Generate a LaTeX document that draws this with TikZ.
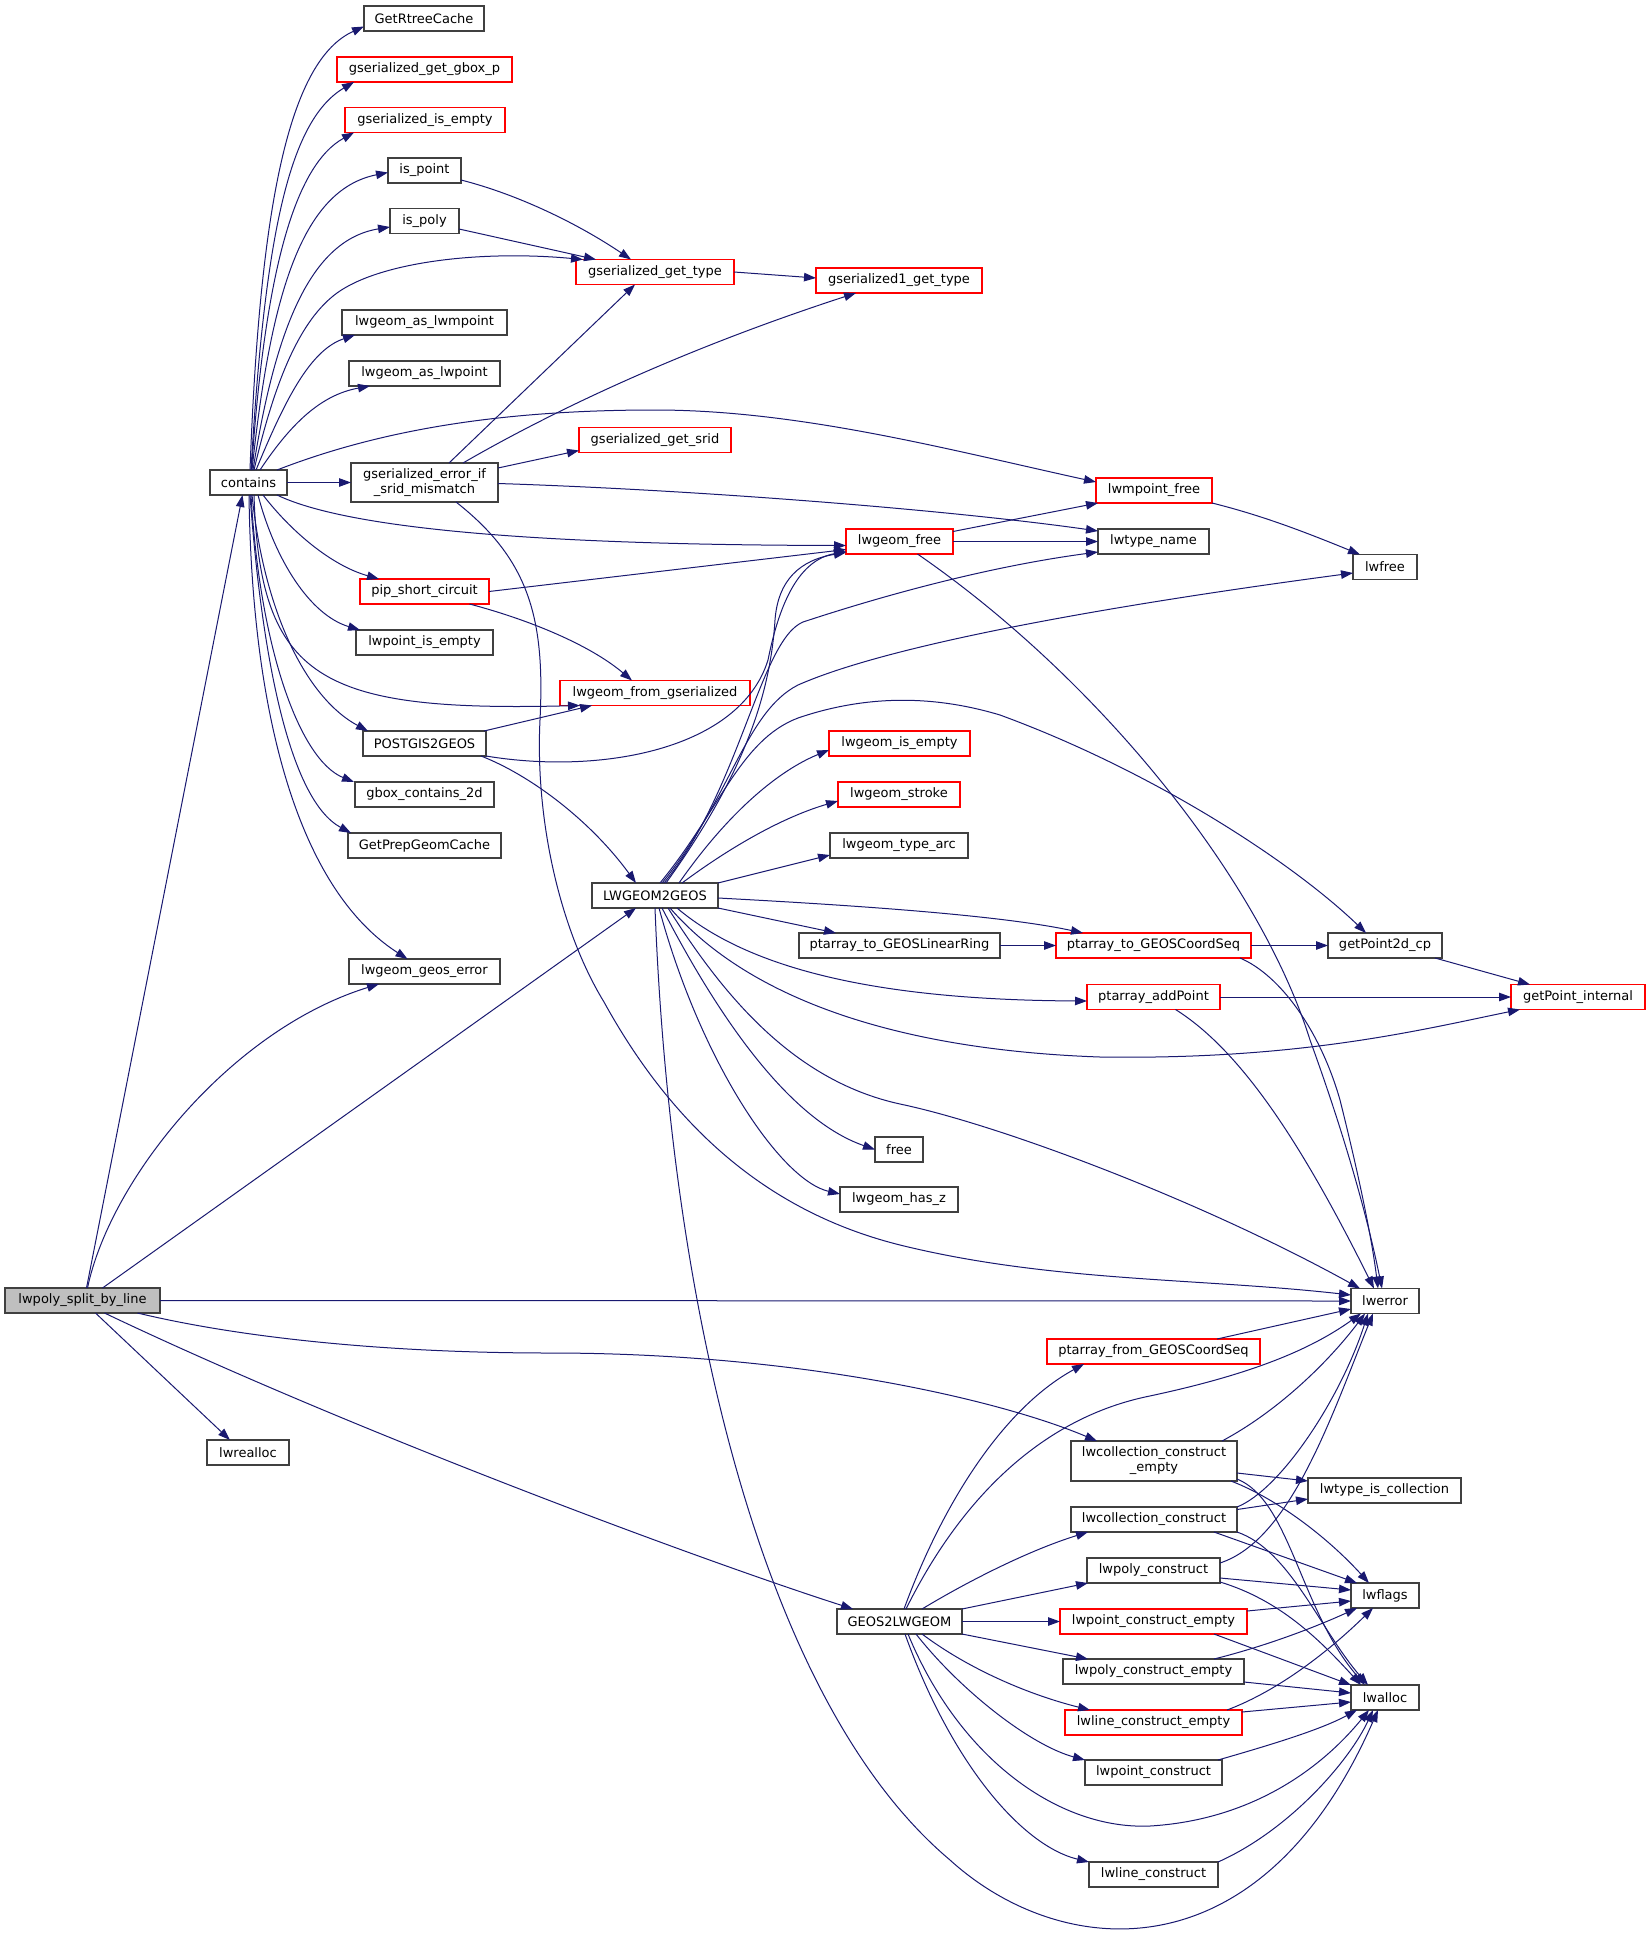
\documentclass[tikz,border=0pt]{standalone}
\usepackage{fontspec}
\setmainfont{DejaVu Sans}
\usetikzlibrary{arrows.meta}
\definecolor{edgec}{HTML}{191970}
\definecolor{bordc}{HTML}{404040}
\definecolor{rootfill}{HTML}{BFBFBF}
\begin{document}
\begin{tikzpicture}[x=1pt,y=-1pt,
  nd/.style={draw, line width=1.2pt, inner sep=0pt, outer sep=0pt, minimum height=25pt,
    font=\fontsize{13}{15}\selectfont, align=center, anchor=center},
  blkbox/.style={nd, draw=bordc, fill=white},
  redbox/.style={nd, draw=red, fill=white, line width=1.1pt},
  rootbox/.style={nd, draw=bordc, fill=rootfill},
  edg/.style={draw=edgec, line width=1pt, -{Triangle[length=12pt,width=8.5pt]}}
]
\useasboundingbox[fill=white] (0,0) rectangle (1649,1937);

% ---------------- nodes ----------------
\node[blkbox, minimum width=120pt] (getrtree) at (424,18.5) {GetRtreeCache};
\node[redbox, minimum width=175pt] (gbox) at (424.5,69.5) {gserialized\_get\_gbox\_p};
\node[redbox, minimum width=160pt] (gisempty) at (425,120) {gserialized\_is\_empty};
\node[blkbox, minimum width=73pt] (ispoint) at (424.5,170.5) {is\_point};
\node[blkbox, minimum width=69pt] (ispoly) at (424.5,221) {is\_poly};
\node[redbox, minimum width=158pt] (gtype) at (655,272) {gserialized\_get\_type};
\node[redbox, minimum width=166pt] (g1type) at (899,280.5) {gserialized1\_get\_type};
\node[blkbox, minimum width=165pt] (asmpoint) at (424.5,322.5) {lwgeom\_as\_lwmpoint};
\node[blkbox, minimum width=151pt] (aspoint) at (424.5,373.5) {lwgeom\_as\_lwpoint};
\node[blkbox, minimum width=77pt] (contains) at (248.5,482.5) {contains};
\node[blkbox, minimum width=147pt, minimum height=39pt] (srid) at (424.5,482.5) {gserialized\_error\_if\\\_srid\_mismatch};
\node[redbox, minimum width=152pt] (getsrid) at (655,440) {gserialized\_get\_srid};
\node[redbox, minimum width=116pt] (mpfree) at (1154,490.5) {lwmpoint\_free};
\node[blkbox, minimum width=111pt] (typename) at (1153.5,541.5) {lwtype\_name};
\node[redbox, minimum width=107pt] (gfree) at (899.5,541.5) {lwgeom\_free};
\node[blkbox, minimum width=64pt] (lwfree) at (1385,567) {lwfree};
\node[redbox, minimum width=129pt] (pip) at (424.5,591.5) {pip\_short\_circuit};
\node[blkbox, minimum width=137pt] (ptisempty) at (424.5,642.5) {lwpoint\_is\_empty};
\node[redbox, minimum width=190pt] (fromgser) at (655,693) {lwgeom\_from\_gserialized};
\node[blkbox, minimum width=123pt] (pg2geos) at (424.5,743.5) {POSTGIS2GEOS};
\node[blkbox, minimum width=139pt] (gboxc) at (424.5,794.5) {gbox\_contains\_2d};
\node[blkbox, minimum width=153pt] (prepgeom) at (424.5,845.5) {GetPrepGeomCache};
\node[redbox, minimum width=141pt] (isempty) at (899.5,743.5) {lwgeom\_is\_empty};
\node[redbox, minimum width=122pt] (stroke) at (899,794.5) {lwgeom\_stroke};
\node[blkbox, minimum width=138pt] (typearc) at (899,845.5) {lwgeom\_type\_arc};
\node[blkbox, minimum width=126pt] (lw2geos) at (655,895.5) {LWGEOM2GEOS};
\node[blkbox, minimum width=151pt] (geoserr) at (424.5,971.5) {lwgeom\_geos\_error};
\node[blkbox, minimum width=201pt] (linring) at (899.5,945.5) {ptarray\_to\_GEOSLinearRing};
\node[redbox, minimum width=195pt] (coordseq) at (1153.5,945.5) {ptarray\_to\_GEOSCoordSeq};
\node[blkbox, minimum width=114pt] (p2dcp) at (1385,945.5) {getPoint2d\_cp};
\node[redbox, minimum width=133pt] (addpoint) at (1153.5,997) {ptarray\_addPoint};
\node[redbox, minimum width=134pt] (ptinternal) at (1578,997) {getPoint\_internal};
\node[blkbox, minimum width=48pt] (free) at (899,1149.5) {free};
\node[blkbox, minimum width=118pt] (hasz) at (899,1199.5) {lwgeom\_has\_z};
\node[rootbox, minimum width=155pt] (split) at (82.5,1300.5) {lwpoly\_split\_by\_line};
\node[blkbox, minimum width=68pt] (lwerror) at (1385,1301) {lwerror};
\node[redbox, minimum width=213pt] (ptfrom) at (1153.5,1351.5) {ptarray\_from\_GEOSCoordSeq};
\node[blkbox, minimum width=82pt] (realloc) at (248,1452.5) {lwrealloc};
\node[blkbox, minimum width=166pt, minimum height=40pt] (collempty) at (1154,1461) {lwcollection\_construct\\\_empty};
\node[blkbox, minimum width=153pt] (iscoll) at (1384.5,1490.5) {lwtype\_is\_collection};
\node[blkbox, minimum width=166pt] (collcons) at (1154,1519.5) {lwcollection\_construct};
\node[blkbox, minimum width=133pt] (polycons) at (1153.5,1570.5) {lwpoly\_construct};
\node[blkbox, minimum width=68pt] (lwflags) at (1385,1595.5) {lwflags};
\node[blkbox, minimum width=125pt] (geos2lw) at (899.5,1621.5) {GEOS2LWGEOM};
\node[redbox, minimum width=187pt] (ptconsempty) at (1153.5,1621.5) {lwpoint\_construct\_empty};
\node[blkbox, minimum width=181pt] (polyconsempty) at (1153.5,1671.5) {lwpoly\_construct\_empty};
\node[blkbox, minimum width=68pt] (lwalloc) at (1385,1697.5) {lwalloc};
\node[redbox, minimum width=177pt] (lineconsempty) at (1153.5,1722.5) {lwline\_construct\_empty};
\node[blkbox, minimum width=137pt] (ptcons) at (1153.5,1772.5) {lwpoint\_construct};
\node[blkbox, minimum width=129pt] (linecons) at (1153.5,1874.5) {lwline\_construct};

% ---------------- edges ----------------
% lwpoly_split_by_line
\draw[edg] ([xshift=4pt]split.north) -- ([xshift=-6pt]contains.south);
\draw[edg] ([xshift=5pt]split.north) .. controls (110,1180) and (230,1030) .. ([xshift=30pt]geoserr.south west);
\draw[edg] ([xshift=20pt]split.north) -- ([xshift=-19pt]lw2geos.south);
\draw[edg] (split.east) -- (lwerror.west);
\draw[edg] ([xshift=55pt]split.south) .. controls (250,1340) and (400,1353) .. (550,1353) .. controls (800,1353) and (1000,1400) .. ([xshift=26pt]collempty.north west);
\draw[edg] ([xshift=13pt]split.south) -- ([xshift=-18pt]realloc.north);
\draw[edg] ([xshift=22pt]split.south) .. controls (350,1430) and (700,1560) .. ([xshift=16pt]geos2lw.north west);

% contains
\draw[edg] ([xshift=1.5pt]contains.north) .. controls (260,200) and (290,60) .. ([yshift=-8pt]getrtree.west);
\draw[edg] ([xshift=2.5pt]contains.north) .. controls (265,230) and (290,120) .. ([xshift=17pt]gbox.south west);
\draw[edg] ([xshift=3pt]contains.north) .. controls (265,270) and (295,165) .. ([xshift=9pt]gisempty.south west);
\draw[edg] ([xshift=3.5pt]contains.north) .. controls (270,300) and (300,190) .. ([yshift=-2pt]ispoint.west);
\draw[edg] ([xshift=4.5pt]contains.north) .. controls (275,330) and (310,240) .. ([yshift=-6pt]ispoly.west);
\draw[edg] ([xshift=5.5pt]contains.north) .. controls (275,380) and (300,320) .. (337,293) .. controls (380,262) and (480,250) .. ([xshift=7pt]gtype.north west);
\draw[edg] ([xshift=7.5pt]contains.north) .. controls (285,400) and (310,350) .. ([xshift=13pt]asmpoint.south west);
\draw[edg] ([xshift=11.5pt]contains.north) .. controls (290,425) and (320,395) .. ([xshift=21pt]aspoint.south west);
\draw[edg] (contains.east) -- (srid.west);
\draw[edg] ([xshift=-10pt]contains.north east) .. controls (380,430) and (500,410) .. (655,410) .. controls (800,410) and (950,450) .. ([yshift=-4pt]mpfree.north west);
\draw[edg] ([xshift=-10pt]contains.south east) .. controls (360,535) and (600,545) .. ([yshift=-4pt]gfree.west);
\draw[edg] ([xshift=14.5pt]contains.south) .. controls (290,530) and (330,565) .. ([xshift=19pt]pip.north west);
\draw[edg] ([xshift=9.5pt]contains.south) .. controls (275,560) and (310,615) .. ([xshift=4pt]ptisempty.north west);
\draw[edg] ([xshift=5.5pt]contains.south) .. controls (260,680) and (320,712) .. ([xshift=20pt]fromgser.south west);
\draw[edg] ([xshift=3.5pt]contains.south) .. controls (265,620) and (310,700) .. ([xshift=5pt]pg2geos.north west);
\draw[edg] ([xshift=2.5pt]contains.south) .. controls (260,650) and (300,760) .. ([xshift=-1pt]gboxc.north west);
\draw[edg] ([xshift=1.5pt]contains.south) .. controls (262,660) and (290,800) .. ([xshift=3pt]prepgeom.north west);
\draw[edg] ([xshift=0.5pt]contains.south) .. controls (252,720) and (300,890) .. ([xshift=-17pt]geoserr.north);

% gserialized_error_if_srid_mismatch
\draw[edg] ([xshift=24.5pt]srid.north) -- ([xshift=-20pt]gtype.south);
\draw[edg] ([xshift=38.5pt]srid.north) .. controls (520,430) and (650,360) .. ([xshift=40pt]g1type.south west);
\draw[edg] ([yshift=-5pt]srid.north east) -- ([yshift=2pt]getsrid.south west);
\draw[edg] ([yshift=-1pt]srid.east) .. controls (700,490) and (950,510) .. ([yshift=-2pt]typename.north west);
\draw[edg] ([xshift=31.5pt]srid.south) .. controls (530,560) and (545,620) .. (540,720) .. controls (535,820) and (560,930) .. (604,1002) .. controls (680,1140) and (780,1215) .. (900,1245) .. controls (1050,1282) and (1200,1278) .. ([yshift=6pt]lwerror.west);

% is_point, is_poly, gserialized_get_type
\draw[edg] ([yshift=-9.5pt]ispoint.east) .. controls (520,195) and (580,225) .. ([xshift=-24pt]gtype.north);
\draw[edg] ([yshift=-8pt]ispoly.east) -- ([xshift=20pt]gtype.north west);
\draw[edg] (gtype.east) -- ([yshift=2.5pt]g1type.west);

% lwmpoint_free, lwgeom_free
\draw[edg] (mpfree.south east) .. controls (1260,515) and (1300,530) .. ([xshift=7pt]lwfree.north west);
\draw[edg] ([yshift=10pt]gfree.east) -- ([xshift=2pt]mpfree.south west);
\draw[edg] (gfree.east) -- (typename.west);
\draw[edg] ([xshift=18pt]gfree.south) .. controls (1100,680) and (1260,880) .. (1310,1040) .. controls (1350,1150) and (1370,1230) .. ([xshift=-3pt]lwerror.north);

% pip_short_circuit
\draw[edg] (pip.east) -- ([yshift=-8pt]gfree.west);
\draw[edg] ([xshift=45pt]pip.south) .. controls (530,620) and (590,645) .. ([xshift=72pt]fromgser.north west);

% POSTGIS2GEOS
\draw[edg] ([xshift=-2pt]pg2geos.north east) -- ([xshift=32pt]fromgser.south west);
\draw[edg] (pg2geos.south east) .. controls (600,775) and (740,750) .. (768,660) .. controls (780,600) and (800,560) .. ([yshift=-10pt]gfree.west);
\draw[edg] ([xshift=-5pt]pg2geos.south east) .. controls (530,775) and (590,820) .. ([xshift=-19pt]lw2geos.north);

% LWGEOM2GEOS
\draw[edg] ([xshift=11pt]lw2geos.north) .. controls (740,780) and (770,700) .. (775,620) .. controls (778,580) and (800,560) .. ([yshift=-11pt]gfree.west);
\draw[edg] ([xshift=9pt]lw2geos.north) .. controls (740,790) and (760,640) .. (803,622) .. controls (900,590) and (1000,565) .. ([yshift=-10.5pt]typename.west);
\draw[edg] ([xshift=7pt]lw2geos.north) .. controls (730,800) and (745,712) .. (798,685) .. controls (900,640) and (1150,600) .. ([yshift=-6pt]lwfree.west);
\draw[edg] ([xshift=5pt]lw2geos.north) .. controls (720,810) and (740,740) .. (798,718) .. controls (880,690) and (950,700) .. (1000,715) .. controls (1150,770) and (1290,860) .. ([xshift=-19pt]p2dcp.north);
\draw[edg] ([xshift=24pt]lw2geos.north) .. controls (730,810) and (780,770) .. ([yshift=6pt]isempty.south west);
\draw[edg] ([xshift=27pt]lw2geos.north) .. controls (740,840) and (790,815) .. ([yshift=6pt]stroke.south west);
\draw[edg] (lw2geos.north east) -- ([yshift=3pt]typearc.south west);
\draw[edg] (lw2geos.south east) -- ([xshift=37pt]linring.north west);
\draw[edg] ([yshift=-2.5pt]lw2geos.east) .. controls (850,905) and (1000,915) .. ([xshift=27pt]coordseq.north west);
\draw[edg] ([xshift=22pt]lw2geos.south) .. controls (750,970) and (880,1000) .. ([yshift=-4pt]addpoint.west);
\draw[edg] ([xshift=15pt]lw2geos.south) .. controls (750,1000) and (900,1050) .. (1100,1057) .. controls (1300,1060) and (1420,1030) .. ([xshift=9pt]ptinternal.south west);
\draw[edg] ([xshift=13pt]lw2geos.south) .. controls (720,990) and (790,1080) .. (900,1104) .. controls (1000,1125) and (1200,1200) .. ([xshift=9pt]lwerror.north west);
\draw[edg] ([xshift=7pt]lw2geos.south) .. controls (720,1020) and (790,1120) .. (free.west);
\draw[edg] ([xshift=4pt]lw2geos.south) .. controls (700,1060) and (780,1180) .. ([yshift=5.5pt]hasz.west);
\draw[edg] (lw2geos.south) .. controls (670,1300) and (760,1700) .. (950,1860) .. controls (1060,1960) and (1260,1980) .. ([xshift=-7pt]lwalloc.south);

% ptarray helpers
\draw[edg] (linring.east) -- (coordseq.west);
\draw[edg] (coordseq.east) -- (p2dcp.west);
\draw[edg] ([xshift=-11pt]coordseq.south east) .. controls (1280,975) and (1320,1030) .. (1340,1100) .. controls (1360,1180) and (1372,1240) .. ([xshift=-7pt]lwerror.north);
\draw[edg] ([xshift=-7pt]p2dcp.south east) -- ([xshift=19pt]ptinternal.north west);
\draw[edg] (addpoint.east) -- (ptinternal.west);
\draw[edg] ([xshift=22pt]addpoint.south) .. controls (1240,1050) and (1300,1140) .. ([xshift=-11pt]lwerror.north);
\draw[edg] ([xshift=-43pt]ptfrom.north east) -- ([yshift=-8pt]lwerror.west);

% GEOS2LWGEOM
\draw[edg] ([xshift=4.5pt]geos2lw.north) .. controls (940,1510) and (1000,1410) .. ([xshift=37pt]ptfrom.south west);
\draw[edg] ([xshift=6.5pt]geos2lw.north) .. controls (960,1500) and (1040,1420) .. (1145,1397) .. controls (1250,1375) and (1310,1350) .. ([xshift=10pt]lwerror.south west);
\draw[edg] ([xshift=22.5pt]geos2lw.north) .. controls (970,1580) and (1030,1550) .. ([xshift=17pt]collcons.south west);
\draw[edg] (geos2lw.north east) -- ([xshift=1pt]polycons.south west);
\draw[edg] (geos2lw.east) -- (ptconsempty.west);
\draw[edg] (geos2lw.south east) -- ([xshift=25pt]polyconsempty.north west);
\draw[edg] ([xshift=22.5pt]geos2lw.south) .. controls (970,1670) and (1030,1695) .. ([xshift=25pt]lineconsempty.north west);
\draw[edg] ([xshift=16.5pt]geos2lw.south) .. controls (960,1690) and (1030,1745) .. (ptcons.north west);
\draw[edg] ([xshift=8.5pt]geos2lw.south) .. controls (960,1760) and (1060,1830) .. (1150,1826) .. controls (1250,1820) and (1320,1770) .. ([xshift=18pt]lwalloc.south west);
\draw[edg] ([xshift=5.5pt]geos2lw.south) .. controls (950,1760) and (1020,1845) .. (linecons.north west);

% constructors
\draw[edg] ([xshift=-15pt]collempty.north east) .. controls (1280,1410) and (1330,1360) .. ([xshift=14pt]lwerror.south west);
\draw[edg] ([yshift=-12pt]collempty.east) -- ([yshift=9.5pt]iscoll.west);
\draw[edg] ([xshift=-6pt]collempty.south east) .. controls (1280,1500) and (1330,1540) .. ([xshift=18pt]lwflags.north west);
\draw[edg] ([yshift=-18pt]collempty.east) .. controls (1290,1500) and (1300,1610) .. ([xshift=14pt]lwalloc.north west);

\draw[edg] (collcons.north east) .. controls (1280,1490) and (1340,1400) .. ([xshift=17pt]lwerror.south west);
\draw[edg] ([yshift=10pt]collcons.east) -- ([yshift=-8.5pt]iscoll.west);
\draw[edg] ([xshift=-23pt]collcons.south east) -- ([xshift=6pt]lwflags.north west);
\draw[edg] (collcons.south east) .. controls (1290,1550) and (1320,1630) .. ([xshift=17pt]lwalloc.north west);

\draw[edg] ([yshift=7.5pt]polycons.east) .. controls (1290,1540) and (1330,1420) .. ([xshift=22pt]lwerror.south west);
\draw[edg] ([yshift=-7.5pt]polycons.east) -- ([yshift=5.5pt]lwflags.west);
\draw[edg] ([yshift=-11.5pt]polycons.east) .. controls (1280,1600) and (1320,1640) .. ([xshift=10pt]lwalloc.north west);

\draw[edg] ([yshift=10.5pt]ptconsempty.east) -- ([yshift=-5.5pt]lwflags.west);
\draw[edg] ([xshift=-33pt]ptconsempty.south east) -- (lwalloc.north west);

\draw[edg] ([xshift=-30pt]polyconsempty.north east) .. controls (1270,1645) and (1320,1625) .. ([xshift=6pt]lwflags.south west);
\draw[edg] ([yshift=-10.5pt]polyconsempty.east) -- ([yshift=4.5pt]lwalloc.west);

\draw[edg] ([xshift=-15pt]lineconsempty.north east) .. controls (1280,1690) and (1330,1650) .. ([xshift=22pt]lwflags.south west);
\draw[edg] ([yshift=10.5pt]lineconsempty.east) -- ([yshift=-4.5pt]lwalloc.west);

\draw[edg] ([xshift=-4pt]ptcons.north east) .. controls (1270,1745) and (1320,1730) .. ([xshift=6pt]lwalloc.south west);
\draw[edg] (linecons.north east) .. controls (1290,1830) and (1350,1760) .. ([xshift=22pt]lwalloc.south west);
\end{tikzpicture}
\end{document}
